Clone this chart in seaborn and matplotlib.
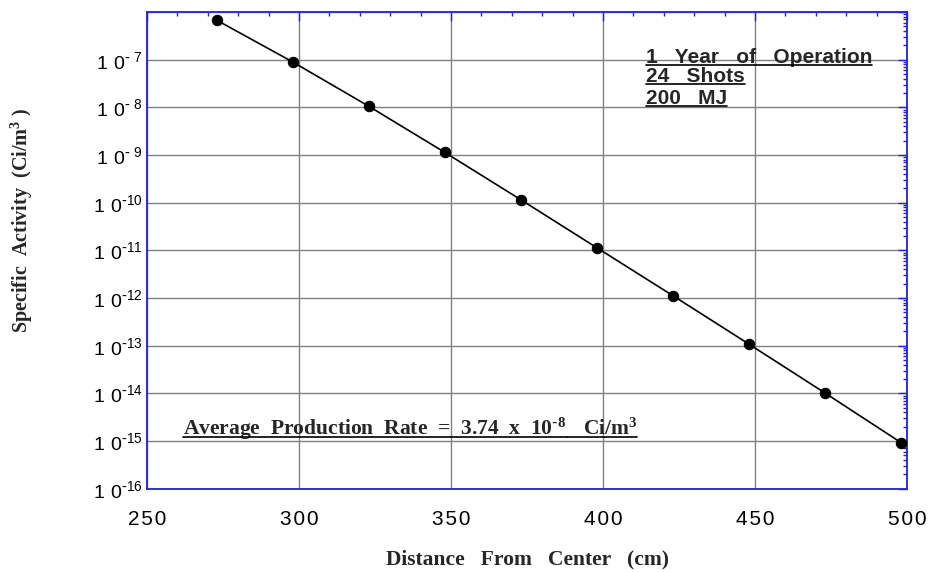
import matplotlib
matplotlib.use("Agg")
import numpy as np
import pandas as pd
import seaborn as sns
import matplotlib.pyplot as plt
from matplotlib.lines import Line2D
from matplotlib.ticker import FixedLocator, MultipleLocator, LogLocator, NullFormatter, FixedFormatter

# ---- data ----
distance_cm = [273, 298, 323, 348, 373, 398, 423, 448, 473, 498]
activity = [6.7e-7, 8.9e-8, 1.05e-8, 1.13e-9, 1.15e-10, 1.13e-11,
            1.12e-12, 1.08e-13, 1.02e-14, 9.3e-16]
x_ticks = [250, 300, 350, 400, 450, 500]
y_exponents = [-16, -15, -14, -13, -12, -11, -10, -9, -8, -7, -6]
info_lines = ["1   Year   of   Operation", "24   Shots", "200   MJ"]
rate_text = r"Average  Production  Rate  =  3.74  x  10$^{\text{-}8}$"
rate_unit = r"   Ci/m$^{3}$"

sns.set_style("white")
plt.rcParams["font.family"] = ["Liberation Sans", "DejaVu Sans"]
plt.rcParams["mathtext.default"] = "regular"

AXCOL = "#2323d2"
SERIF = ["Liberation Serif", "DejaVu Serif"]

fig = plt.figure(figsize=(9.3, 5.72), dpi=100)
ax = fig.add_axes([147 / 930, 1 - 488.7 / 572, 760 / 930, 476.7 / 572])

df = pd.DataFrame({"distance": distance_cm, "activity": activity})
sns.lineplot(data=df, x="distance", y="activity", ax=ax, color="black",
             linewidth=1.2, marker="o", markersize=7.5, markeredgecolor="black",
             markerfacecolor="black", zorder=5)

ax.set_yscale("log")
ax.set_xlim(250, 500)
ax.set_ylim(1e-16, 1e-6)

# ticks
ax.xaxis.set_major_locator(FixedLocator(x_ticks))
ax.xaxis.set_minor_locator(MultipleLocator(10))
ax.set_xticklabels(["\u200a".join(str(t)) for t in x_ticks])

yt = [10.0 ** e for e in y_exponents]
ax.yaxis.set_major_locator(FixedLocator(yt))
labels = []
for e in y_exponents:
    if e == -6:
        labels.append("")
    else:
        n = -e
        exp = r"\text{-}\ %d" % n if n < 10 else r"\text{-}%d" % n
        labels.append(r"$\mathregular{1\ 0^{%s}}$" % exp)
ax.yaxis.set_major_formatter(FixedFormatter(labels))
ax.yaxis.set_minor_locator(LogLocator(base=10, subs=np.arange(2, 10), numticks=100))
ax.yaxis.set_minor_formatter(NullFormatter())

ax.tick_params(axis="both", which="major", direction="in", length=6.5, width=1.0,
               color=AXCOL, top=True, right=True, labelsize=14, labelcolor="black")
ax.tick_params(axis="both", which="minor", direction="in", length=3, width=1.0,
               color=AXCOL, top=True, right=True)
ax.tick_params(axis="x", which="major", pad=15, labelsize=15)
ax.tick_params(axis="y", which="major", pad=3)

for s in ax.spines.values():
    s.set_color(AXCOL)
    s.set_linewidth(1.3)
    s.set_visible(True)

ax.grid(True, which="major", color="#808080", linewidth=1.0)
ax.set_axisbelow(True)

ax.set_xlabel("Distance   From   Center   (cm)", family=SERIF, fontweight="bold",
              fontsize=15.5, labelpad=15)
ax.set_ylabel("Specific  Activity  (Ci/m$^{3}$ )", family=SERIF, fontweight="bold",
              fontsize=14.5)
ax.yaxis.set_label_coords(-0.147, 0.5637)

# annotations
texts = []
ys = [0.8936, 0.8525, 0.807]
for line, yy in zip(info_lines, ys):
    t = ax.text(0.6566, yy, line, transform=ax.transAxes, fontsize=15,
                fontweight="bold", va="baseline", ha="left")
    texts.append(t)

t1 = ax.text(0.0478, 0.1133, rate_text, transform=ax.transAxes, family=SERIF,
             fontsize=15.5, fontweight="bold", va="baseline", ha="left")
texts.append(t1)

fig.canvas.draw()
r = fig.canvas.get_renderer()
bb1 = t1.get_window_extent(r)
x2 = ax.transAxes.inverted().transform((bb1.x1, 0))[0]
t2 = ax.text(x2, 0.1133, rate_unit, transform=ax.transAxes, family=SERIF,
             fontsize=15.5, fontweight="bold", va="baseline", ha="left")
texts.append(t2)
fig.canvas.draw()

inv = fig.transFigure.inverted()
for t in texts:
    bb = t.get_window_extent(r)
    base_y = ax.transAxes.transform(t.get_position())[1]
    yline = base_y - 2
    (fx0, fy), (fx1, _) = inv.transform([(bb.x0, yline), (bb.x1, yline)])
    fig.add_artist(Line2D([fx0, fx1], [fy, fy], transform=fig.transFigure,
                          color="black", linewidth=1.2))

fig.savefig("out.png", dpi=100)
